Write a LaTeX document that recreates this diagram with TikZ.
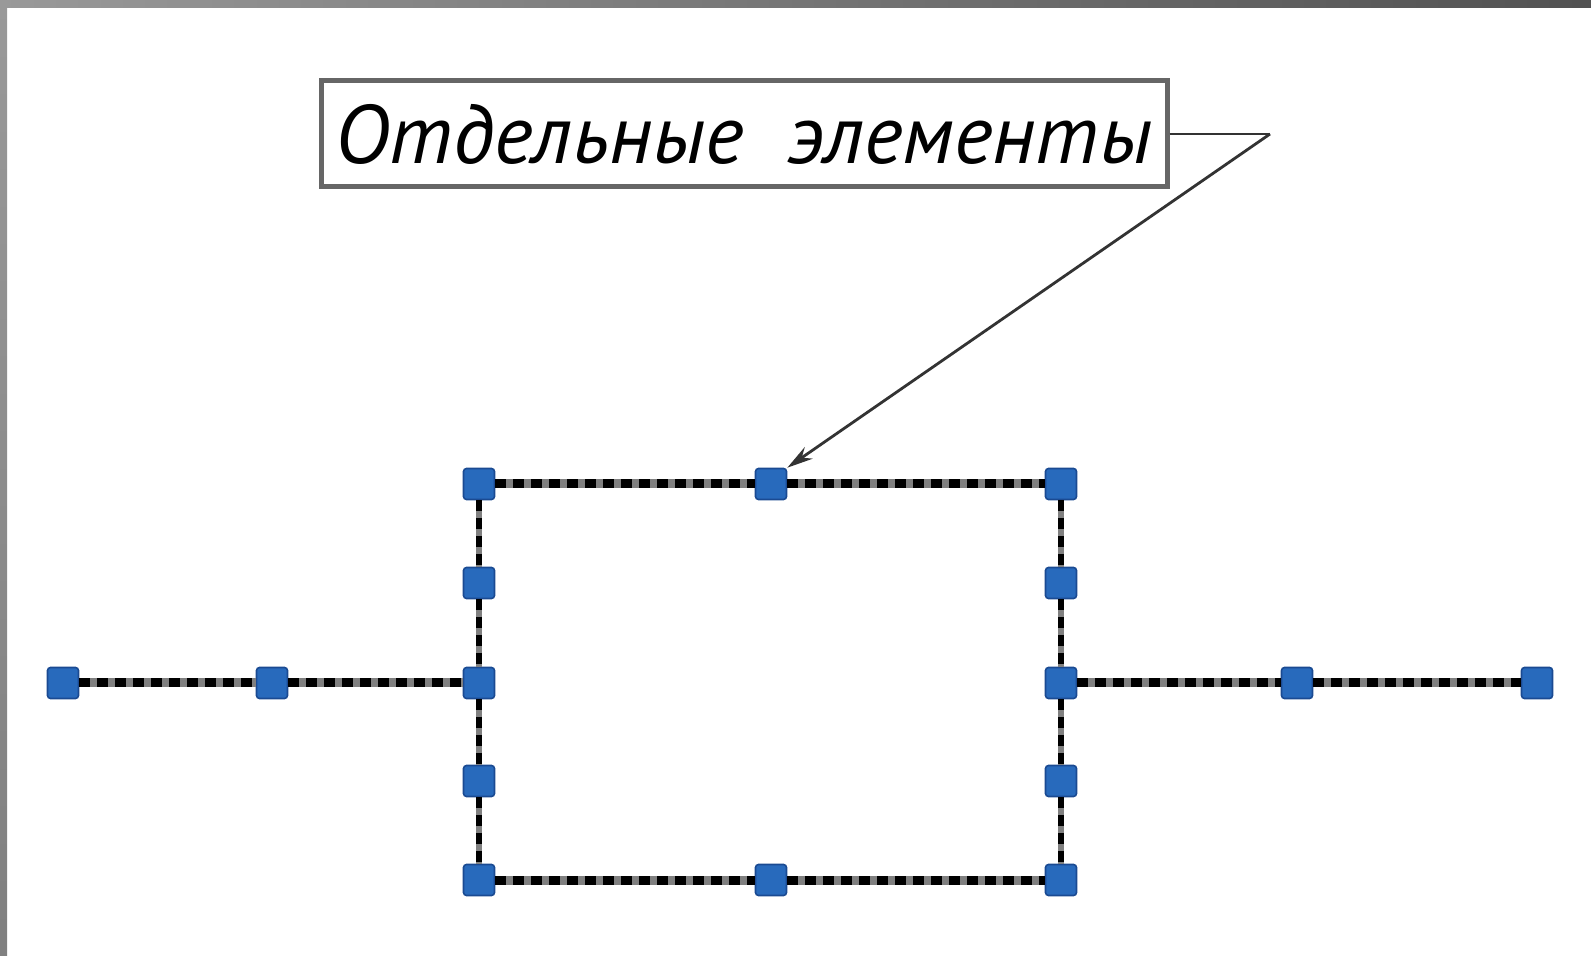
\documentclass[tikz,border=0pt]{standalone}
\usepackage{fontspec}
\newfontfamily\notefont{PT Sans}
\usetikzlibrary{arrows.meta}
\definecolor{grip}{RGB}{40,106,188}
\definecolor{gripedge}{RGB}{26,74,146}

\begin{document}
\begin{tikzpicture}[x=0.5pt,y=-0.5pt,>={Stealth[length=13pt,width=7pt]},
    grip/.style={rectangle, draw=gripedge, fill=grip, line width=0.8pt,
      rounded corners=1.5pt, minimum size=15.5pt, inner sep=0pt},
    hwire/.style={draw=black, line width=4.5pt, dash pattern=on 5.5pt off 3.5pt,
      preaction={draw=black!50, solid, line width=4.5pt}},
    vwire/.style={draw=black, line width=3pt, dash pattern=on 5.5pt off 3.5pt,
      preaction={draw=black!50, solid, line width=3pt}},
    leader/.style={draw=black!80, line width=1.4pt},
    notebox/.style={draw=black!60, line width=2.5pt, fill=white,
      minimum width=423pt, minimum height=53pt, inner sep=0pt,
      font=\notefont\itshape\fontsize{41.5}{48}\selectfont}]
  \useasboundingbox (0,0) rectangle (1591,956);
  \fill[white] (0,0) rectangle (1591,956);
  \shade[left color=black!40, right color=black!68] (0,0) rectangle (1591,8);
  \shade[top color=black!40, bottom color=black!50] (0,0) rectangle (7,956);

  % wire ends and rectangle corners
  \node[grip] (w0) at (63,683) {};
  \node[grip] (w1) at (272,683) {};
  \node[grip] (tl) at (479,484) {};
  \node[grip] (ul) at (479,583) {};
  \node[grip] (ml) at (479,683) {};
  \node[grip] (ll) at (479,781) {};
  \node[grip] (bl) at (479,880) {};
  \node[grip] (tm) at (771,484) {};
  \node[grip] (bm) at (771,880) {};
  \node[grip] (tr) at (1061,484) {};
  \node[grip] (ur) at (1061,583) {};
  \node[grip] (mr) at (1061,683) {};
  \node[grip] (lr) at (1061,781) {};
  \node[grip] (br) at (1061,880) {};
  \node[grip] (e1) at (1297,683) {};
  \node[grip] (e0) at (1537,683) {};

  \node[notebox] (note) at (744,134) {Отдельные \ элементы};
  \coordinate (knee) at (1270,134);

  \draw[hwire] (w0) -- (w1) -- (ml);
  \draw[hwire] (mr) -- (e1) -- (e0);
  \draw[hwire] (tl) -- (tm) -- (tr);
  \draw[hwire] (bl) -- (bm) -- (br);
  \draw[vwire] (tl) -- (ul) -- (ml) -- (ll) -- (bl);
  \draw[vwire] (tr) -- (ur) -- (mr) -- (lr) -- (br);

  \draw[leader] (note.east) -- (knee);
  \draw[leader,->] (knee) -- (tm.north east);
\end{tikzpicture}
\end{document}
